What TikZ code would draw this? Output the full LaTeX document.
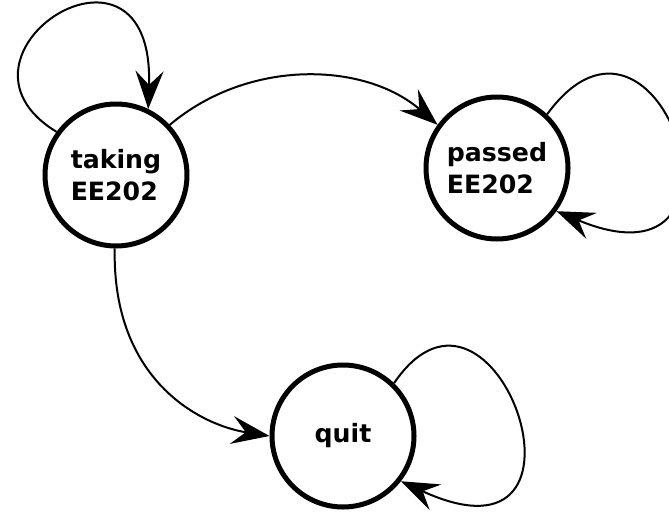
\documentclass[tikz,border=0pt]{standalone}
\usepackage{fontspec}
\setmainfont{DejaVu Sans}
\usepackage{tikz}
\usetikzlibrary{positioning, arrows.meta, shapes}
\tikzstyle{mystate} = [draw, line width=2.5pt, circle, minimum size=71pt, inner sep=0pt, align=left, font=\fontsize{12.6}{16}\selectfont\bfseries]
\tikzstyle{myarrow} = [line width=1pt, -{Stealth[length=19pt, width=14pt, inset=7pt]}]

\begin{document}
\begin{tikzpicture}[x=0.5pt, y=-0.5pt]
      \useasboundingbox (0,0) rectangle (669,514);
      \node[mystate] (taking) at (116,175) {taking\\EE202};
      \node[mystate] (passed) at (497,168) {passed\\EE202};
      \node[mystate] (quit) at (343,436) {quit};
      % self loops
      \draw[myarrow] (taking.144) .. controls (-70,55) and (155,-90) .. (taking.64);
      \draw[myarrow] (passed.47) .. controls (660,-40) and (770,300) .. (passed.-36);
      \draw[myarrow] (quit.46) .. controls (495,235) and (615,580) .. (quit.-38);
      % transitions
      \draw[myarrow] (taking.43) .. controls (249,58) and (365,62) .. (passed.144);
      \draw[myarrow] (taking.-91) .. controls (112,380) and (200,425) .. (quit.west);
\end{tikzpicture}
\end{document}
